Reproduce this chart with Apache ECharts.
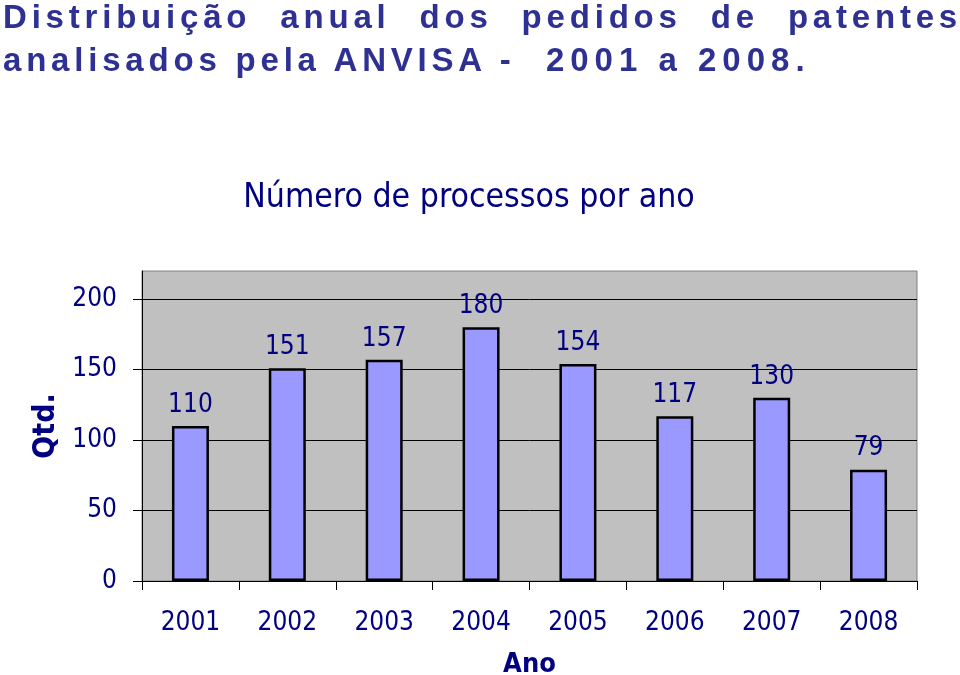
<!DOCTYPE html>
<html>
<head>
<meta charset="utf-8">
<script src="https://cdn.jsdelivr.net/npm/echarts@6/dist/echarts.min.js"></script>
<style>
html,body{margin:0;padding:0;background:#fff;}
#wrap{position:relative;width:960px;height:675px;overflow:hidden;}
#chart{position:absolute;left:0;top:0;width:960px;height:675px;}
#heading{position:absolute;left:3px;top:-5px;width:959px;font:bold 33px "Liberation Sans",Arial,sans-serif;color:#2e3192;letter-spacing:4.8px;line-height:43px;z-index:2;}
#heading .l1{text-align:justify;text-align-last:justify;white-space:nowrap;}
#heading .l2{white-space:pre;}
#heading .l2 span{letter-spacing:6px;}
</style>
</head>
<body>
<div id="wrap">
  <div id="chart"></div>
  <div id="heading"><div class="l1">Distribuição anual dos pedidos de patentes</div><div class="l2">analisados pela ANVISA -<span>  2001 a 2008.</span></div></div>
</div>
<script>
const years = ['2001', '2002', '2003', '2004', '2005', '2006', '2007', '2008'];
const counts = [110, 151, 157, 180, 154, 117, 130, 79];
const yTicks = [0, 50, 100, 150, 200];
const chartTitle = 'Número de processos por ano';
const xName = 'Ano';
const yName = 'Qtd.';

const FONT = '"DejaVu Sans Condensed", "DejaVu Sans", Tahoma, sans-serif';
const NAVY = '#000080';

const chart = echarts.init(document.getElementById('chart'), null, {renderer: 'canvas'});
chart.setOption({
  animation: false,
  backgroundColor: '#ffffff',
  graphic: [{
    type: 'text',
    x: 469,
    y: 198,
    style: {
      text: chartTitle,
      fill: NAVY,
      font: '33.5px ' + FONT,
      textAlign: 'center',
      textVerticalAlign: 'middle'
    }
  }],
  grid: {
    left: 142, right: 43, top: 271, bottom: 94,
    outerBoundsMode: 'none',
    containLabel: false,
    show: true,
    backgroundColor: '#c0c0c0',
    borderColor: '#808080',
    borderWidth: 1
  },
  xAxis: {
    type: 'category',
    data: years,
    boundaryGap: true,
    axisLine: {show: true, lineStyle: {color: '#000', width: 1}},
    axisTick: {show: true, length: 9, alignWithLabel: false, lineStyle: {color: '#000', width: 1}},
    axisLabel: {interval: 0, color: NAVY, fontSize: 26, fontFamily: FONT, margin: 29},
    splitLine: {show: false},
    name: xName,
    nameLocation: 'middle',
    nameGap: 70,
    nameTextStyle: {color: NAVY, fontSize: 27, fontWeight: 'bold', fontFamily: FONT}
  },
  yAxis: {
    type: 'value',
    min: 0,
    max: 220,
    interval: 50,
    axisLine: {show: true, lineStyle: {color: '#000', width: 1}},
    axisTick: {show: true, length: 9, customValues: yTicks, lineStyle: {color: '#000', width: 1}},
    axisLabel: {customValues: yTicks, color: NAVY, fontSize: 26, fontFamily: FONT, margin: 25},
    splitLine: {show: true, lineStyle: {color: '#000', width: 1}},
    name: yName,
    nameLocation: 'middle',
    nameRotate: 90,
    nameGap: 76,
    nameTextStyle: {color: NAVY, fontSize: 30, fontWeight: 'bold', fontFamily: FONT}
  },
  series: [{
    type: 'bar',
    data: counts,
    barWidth: 37,
    itemStyle: {color: '#9999ff', borderColor: '#000', borderWidth: 2.5},
    label: {show: true, position: 'top', distance: 8, color: NAVY, fontSize: 26, fontFamily: FONT}
  }]
});
</script>
</body>
</html>
